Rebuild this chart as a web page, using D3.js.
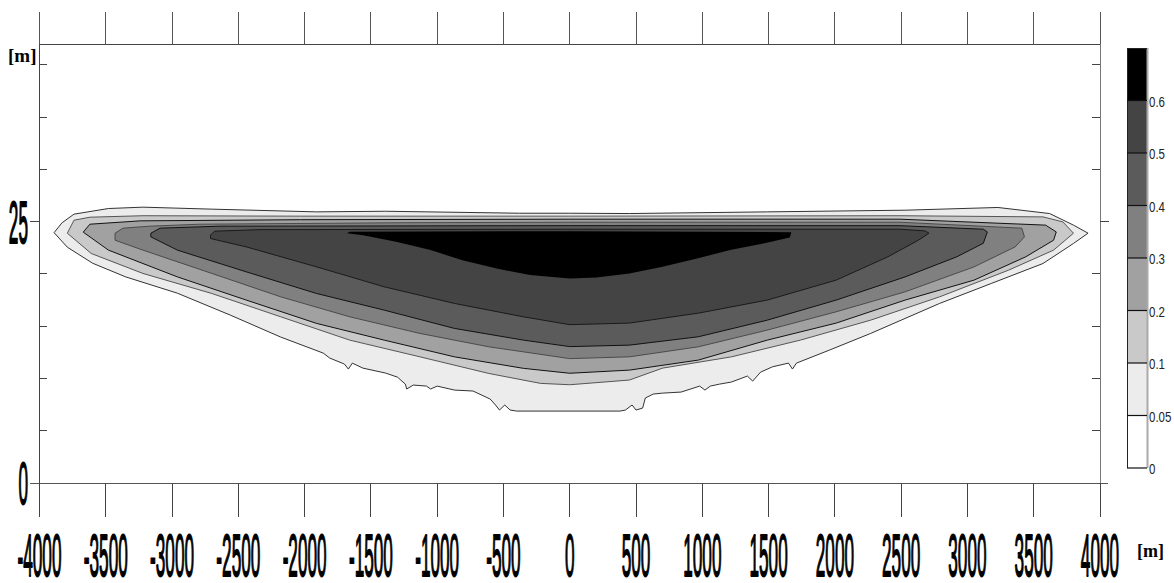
<!DOCTYPE html>
<html><head><meta charset="utf-8">
<script src="https://cdn.jsdelivr.net/npm/d3@7"></script>
<style>body{margin:0;background:#fff}svg{display:block}</style>
</head><body>
<svg id="chart" width="1174" height="583"></svg>
<script>
// ---------- data ----------
const xTickValues = [-4000,-3500,-3000,-2500,-2000,-1500,-1000,-500,0,500,1000,1500,2000,2500,3000,3500,4000];
const xTickLabels = ["-4000","-3500","-3000","-2500","-2000","-1500","-1000","-500","0","500","1000","1500","2000","2500","3000","3500","4000"];
const yLabelValues = [0,25];
const yLabelTexts = ["0","25"];
const yMinorTicks = [5,10,15,20,30,35,40];
const yMax = 42;

const levels = [0,0.05,0.1,0.2,0.3,0.4,0.5,0.6];
const levelLabels = ["0","0.05","0.1","0.2","0.3","0.4","0.5","0.6"];
const bandFills = ["#ffffff","#ececec","#c9c9c9","#a1a1a1","#808080","#5b5b5b","#444444","#000000"];
const lineColors = ["#333333","#555555","#111111","#4a4a4a","#111111","#1a1a1a",null];

// contour outlines [x (m), depth coordinate (m)], one closed ring per level
const contour005 = [[-3890,23.95],[-3830,24.9],[-3740,25.72],[-3480,26.26],[-3220,26.39],[-2700,26.2],[-1910,25.94],[-1390,26.0],[-380,25.81],[0,25.81],[450,25.78],[1490,25.94],[2530,26.1],[3230,26.36],[3620,25.78],[3800,24.67],[3910,23.9],
 [3800,22.92],[3570,21.0],[3180,19.09],[2790,17.18],[2270,14.31],[1960,12.72],[1710,11.47],[1680,10.9],[1650,11.47],[1530,11.12],[1440,10.61],[1380,9.75],[1340,10.23],[1220,9.66],[1130,9.46],[1060,9.27],[1020,8.89],[980,9.27],[840,8.7],[700,8.6],[630,8.51],[570,8.13],[550,7.17],[500,6.98],[470,7.46],[420,6.98],[380,6.88],
 [-400,6.88],[-450,6.98],[-490,7.46],[-530,6.98],[-560,7.46],[-600,8.03],[-730,8.8],[-870,8.89],[-1000,9.27],[-1050,8.99],[-1080,9.27],[-1180,9.37],[-1230,8.99],[-1240,9.46],[-1300,10.13],[-1390,10.52],[-1560,10.99],[-1640,11.47],[-1670,10.9],[-1700,11.38],[-1810,11.95],[-1860,12.43],[-2180,13.96],[-2560,16.06],[-2960,18.16],[-3350,19.72],[-3600,21.03],[-3790,22.56]];
const contour01 = [[-3790,23.9],[-3740,25.14],[-3620,25.43],[-3220,25.57],[-2030,25.53],[0,25.53],[2490,25.57],[3570,25.46],[3720,24.98],[3800,23.9],
 [3650,22.28],[3310,20.36],[2790,17.81],[2270,15.58],[1740,13.67],[1220,12.07],[700,10.99],[450,9.85],[0,9.4],
 [-220,9.53],[-610,10.48],[-1130,12.07],[-1660,13.67],[-2180,15.9],[-2700,18.13],[-3220,20.05],[-3610,21.96]];
const contour02 = [[-3670,24.0],[-3620,24.76],[-3240,25.08],[-2030,25.19],[0,25.24],[2490,25.24],[3590,24.67],[3670,24.02],
 [3650,23.23],[3440,21.64],[3050,19.41],[2530,17.5],[2010,15.3],[1490,13.67],[970,11.76],[450,10.8],[0,10.5],
 [-350,10.97],[-870,12.07],[-1400,13.67],[-1910,15.27],[-2440,17.5],[-2960,19.72],[-3480,22.28]];
const contour03 = [[-3430,23.9],[-3370,24.38],[-3170,24.57],[-2790,24.76],[-1280,24.9],[0,24.95],[2490,24.95],[3410,24.38],[3430,23.55],
 [3360,22.59],[3050,20.68],[2530,18.29],[2010,16.38],[1490,14.63],[970,13.03],[450,12.07],[0,11.9],
 [-610,13.03],[-1130,14.31],[-1660,15.9],[-2180,17.81],[-2700,20.05],[-3220,22.28],[-3430,23.23]];
const contour04 = [[-3160,23.9],[-3090,24.38],[-2640,24.57],[0,24.62],[2490,24.62],[3120,24.28],[3150,24.02],
 [3120,22.94],[2920,21.64],[2530,19.72],[2010,17.5],[1490,15.58],[970,13.99],[450,13.19],[0,13.05],
 [-350,13.67],[-870,14.79],[-1400,16.54],[-1910,18.13],[-2440,20.2],[-2960,22.28],[-3160,23.55]];
const contour05 = [[-2710,23.71],[-2680,24.09],[-2340,24.24],[0,24.28],[2490,24.28],[2680,24.12],[2710,23.9],
 [2630,23.23],[2400,21.64],[2010,19.41],[1490,17.5],[970,16.25],[450,15.3],[0,15.15],
 [-350,15.9],[-870,17.18],[-1400,18.77],[-1910,20.68],[-2440,22.59],[-2710,23.39]];
const contour06 = [[-1680,23.9],[-1660,24.04],[0,24.09],[1670,24.0],[1670,23.9],
 [1660,23.49],[1460,22.92],[1210,22.28],[960,21.48],[700,20.68],[450,20.05],[200,19.67],[0,19.57],
 [-300,19.89],[-550,20.52],[-810,21.32],[-1050,22.28],[-1310,23.07],[-1560,23.71]];
const contours = [contour005,contour01,contour02,contour03,contour04,contour05,contour06];

// ---------- drawing ----------
const svg = d3.select("#chart");
const x = d3.scaleLinear().domain([-4000,4000]).range([39.5,1100]);
const y = d3.scaleLinear().domain([0,yMax]).range([483,44]);
const ring = d3.line().x(d=>x(d[0])).y(d=>y(d[1])).curve(d3.curveLinearClosed);

const gC = svg.append("g");
contours.forEach((c,i)=>{
  gC.append("path").attr("d",ring(c))
    .attr("fill",bandFills[i+1])
    .attr("stroke",lineColors[i]||"none")
    .attr("stroke-width",lineColors[i]?1:0)
    .attr("stroke-linejoin","round");
});

// axes frame
const axisCol = "#444";
const gA = svg.append("g").attr("stroke",axisCol).attr("stroke-width",1).attr("shape-rendering","crispEdges");
gA.append("line").attr("x1",x(-4000)).attr("x2",x(-4000)).attr("y1",12).attr("y2",517);
gA.append("line").attr("x1",x(4000)).attr("x2",x(4000)).attr("y1",12).attr("y2",517).attr("stroke","#777");
gA.append("line").attr("x1",x(-4000)).attr("x2",x(4000)).attr("y1",y(yMax)).attr("y2",y(yMax));
gA.append("line").attr("x1",30).attr("x2",1108).attr("y1",y(0)).attr("y2",y(0)).attr("stroke","#555");
xTickValues.forEach(v=>{
  gA.append("line").attr("x1",x(v)).attr("x2",x(v)).attr("y1",y(0)).attr("y2",517);
  gA.append("line").attr("x1",x(v)).attr("x2",x(v)).attr("y1",12).attr("y2",y(yMax)).attr("stroke","#555");
});
yMinorTicks.forEach(v=>{
  gA.append("line").attr("x1",x(-4000)).attr("x2",x(-4000)+7).attr("y1",y(v)).attr("y2",y(v));
  gA.append("line").attr("x1",x(4000)-8).attr("x2",x(4000)).attr("y1",y(v)).attr("y2",y(v));
});
gA.append("line").attr("x1",30).attr("x2",x(-4000)).attr("y1",y(25)).attr("y2",y(25));
gA.append("line").attr("x1",x(4000)).attr("x2",1109).attr("y1",y(25)).attr("y2",y(25));

// big tick labels (tall, condensed)
const big = {size:20, sx:0.86, sy:3.0};
function bigText(sel){
  return sel.attr("font-family","Liberation Sans, Arial, sans-serif")
    .attr("font-size",big.size).attr("fill","#000")
    .attr("stroke","#000").attr("stroke-width",1.3)
    .attr("vector-effect","non-scaling-stroke").attr("stroke-linejoin","round");
}
xTickValues.forEach((v,i)=>{
  bigText(svg.append("text").text(xTickLabels[i])
    .attr("transform",`translate(${x(v)},576) scale(${big.sx},${big.sy})`)
    .attr("text-anchor","middle"));
});
yLabelValues.forEach((v,i)=>{
  bigText(svg.append("text").text(yLabelTexts[i])
    .attr("transform",`translate(28,${y(v)+21}) scale(${big.sx},${big.sy})`)
    .attr("text-anchor","end"));
});
// unit labels
svg.append("text").text("[m]").attr("x",8).attr("y",62)
  .attr("font-family","Liberation Serif, Times New Roman, serif").attr("font-weight","bold").attr("font-size",19);
svg.append("text").text("[m]").attr("x",1137).attr("y",557)
  .attr("font-family","Liberation Serif, Times New Roman, serif").attr("font-weight","bold").attr("font-size",18);

// colour bar
const cb = d3.scaleBand().domain(d3.range(levels.length)).range([468,48]).paddingInner(0).paddingOuter(0);
const cbX = 1127, cbW = 20;
const gB = svg.append("g");
bandFills.forEach((f,i)=>{
  gB.append("rect").attr("x",cbX).attr("y",cb(i)).attr("width",cbW).attr("height",cb.bandwidth()).attr("fill",f);
});
gB.append("line").attr("x1",cbX+cbW+0.5).attr("x2",cbX+cbW+0.5).attr("y1",48).attr("y2",468).attr("stroke","#aaa").attr("stroke-width",2);
gB.append("line").attr("x1",cbX+0.5).attr("x2",cbX+0.5).attr("y1",48).attr("y2",468).attr("stroke","#222");
gB.append("line").attr("x1",cbX).attr("x2",cbX+cbW).attr("y1",48.5).attr("y2",48.5).attr("stroke","#222");
levels.forEach((lv,i)=>{
  const yy = cb(i)+cb.bandwidth();
  gB.append("line").attr("x1",cbX).attr("x2",cbX+cbW).attr("y1",yy).attr("y2",yy).attr("stroke","#111").attr("stroke-width",1.2);
  gB.append("text").text(levelLabels[i])
    .attr("transform",`translate(${cbX+cbW+2},${yy+6}) scale(0.82,1)`)
    .attr("font-family","Liberation Sans, Arial, sans-serif").attr("font-size",14).attr("fill","#222");
});
</script>
</body></html>
